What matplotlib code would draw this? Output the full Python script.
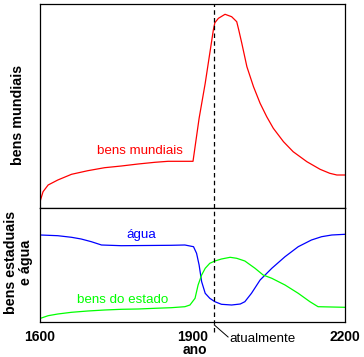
import numpy as np
import matplotlib
matplotlib.use("Agg")
import matplotlib.pyplot as plt
from matplotlib.transforms import blended_transform_factory
from matplotlib.lines import Line2D

plt.rcParams['font.family'] = ['Liberation Sans', 'DejaVu Sans']

# ---- data ----
years_world = [1600, 1601, 1606, 1616, 1635, 1662, 1694, 1727, 1760, 1793, 1826, 1852, 1901,
               1913, 1925, 1934, 1941, 1944, 1951, 1964, 1977, 1987, 1991, 1997, 2007, 2020,
               2033, 2046, 2059, 2079, 2098, 2125, 2151, 2170, 2184, 2200]
world_goods = [4, 8, 16.3, 23, 28, 33.7, 37.3, 40.3, 42, 44, 45.7, 46.7, 46.7,
               89.7, 124.7, 154.7, 178, 185.3, 189.7, 193.7, 191.3, 186.3, 178, 164.7, 141.3, 121.3,
               104.7, 91.3, 79.7, 66.3, 56.3, 46.3, 38.7, 34.7, 33, 33]

years_water = [1601, 1635, 1662, 1681, 1701, 1721, 1760, 1858, 1885, 1902, 1908, 1913, 1918,
               1925, 1934, 1944, 1957, 1977, 1994, 2003, 2016, 2033, 2056, 2082, 2108, 2134,
               2154, 2174, 2200]
water = [87, 86.3, 84.7, 83, 80.3, 77, 76.3, 76.7, 77, 75.3, 68.7, 57, 40.3,
         28.7, 23.7, 20.3, 17.7, 17, 18, 20.3, 28.7, 42, 53.7, 65.3, 75.3, 82,
         85.3, 87, 87.7]

years_state = [1601, 1616, 1635, 1662, 1694, 1727, 1760, 1793, 1826, 1858, 1885, 1895, 1905,
               1911, 1918, 1925, 1934, 1944, 1957, 1974, 1987, 2003, 2023, 2039, 2056, 2082,
               2108, 2131, 2147, 2200]
state_goods = [3.7, 6.3, 8, 9.7, 11, 12, 12.7, 13, 13.7, 14.3, 15.3, 17, 23.7,
               37, 47, 53.7, 58.7, 61, 63, 64.7, 63.7, 61, 53.7, 47, 43.7, 37,
               28.7, 20.3, 15.3, 14.7]

present_year = 1943
xticks = [1600, 1900, 2200]
xtick_labels = ["1600", "1900", "2200"]

# ---- figure ----
W, H = 364, 357
fig = plt.figure(figsize=(W / 100, H / 100), dpi=100)

def fx(px):
    return px / W

def fy(py):
    return 1 - py / H

ax1 = fig.add_axes([fx(40), fy(208), fx(345) - fx(40), fy(4) - fy(208)])
ax2 = fig.add_axes([fx(40), fy(322), fx(345) - fx(40), fy(208) - fy(322)])

for ax in (ax1, ax2):
    ax.set_xlim(1600, 2200)
    ax.set_yticks([])
    for s in ax.spines.values():
        s.set_linewidth(0.9)
        s.set_color('black')

ax1.set_ylim(0, 204)
ax2.set_ylim(0, 114)
ax1.set_xticks([])

ax1.plot(years_world, world_goods, color='#ff0000', lw=0.9)
ax2.plot(years_water, water, color='#0000ff', lw=0.9)
ax2.plot(years_state, state_goods, color='#00ff00', lw=0.9)

ax2.set_xticks(xticks)
ax2.set_xticklabels(xtick_labels, fontsize=10, fontweight='bold')
ax2.tick_params(axis='x', length=0, pad=5.5)

# curve labels
ax1.text(1797, 208 - 154, "bens mundiais", color='#ff0000', fontsize=9.6,
         ha='center', va='baseline')
ax2.text(1799, 322 - 238, "água", color='#0000ff', fontsize=9.6,
         ha='center', va='baseline')
ax2.text(1763, 322 - 303, "bens do estado", color='#00ff00', fontsize=9.6,
         ha='center', va='baseline')

# dashed "present" line through both panels
tr = blended_transform_factory(ax2.transData, fig.transFigure)
fig.add_artist(Line2D([present_year, present_year], [fy(331.5), fy(4)],
                      transform=tr, color='black', lw=0.9,
                      linestyle=(0, (3.6, 2.6))))
fig.add_artist(Line2D([present_year, present_year + 27], [fy(325), fy(337)],
                      transform=tr, color='black', lw=0.7))
fig.text(fx(229.5), fy(341.5), "atualmente", fontsize=9.6, ha='left', va='baseline')

# axis titles
fig.text(fx(195), fy(354), "ano", fontsize=10, fontweight='bold',
         ha='center', va='baseline')
fig.text(fx(18), fy(115), "bens mundiais", fontsize=10.3, fontweight='bold',
         rotation=90, ha='center', va='center')
fig.text(fx(18.5), fy(262), "bens estaduais\ne água", fontsize=10.3, fontweight='bold',
         rotation=90, ha='center', va='center', multialignment='center',
         linespacing=1.15)

fig.savefig("out.png", dpi=100)
